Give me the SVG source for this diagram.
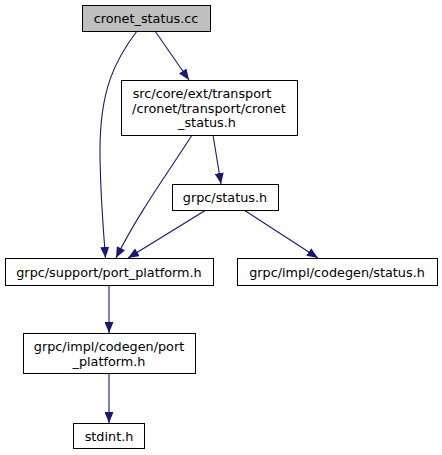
<svg xmlns="http://www.w3.org/2000/svg" width="442" height="455" viewBox="0 0 442 455">
<defs>
<marker id="ah" viewBox="0 0 11 9" refX="11" refY="4.5" markerWidth="11" markerHeight="9" markerUnits="userSpaceOnUse" orient="auto">
<path d="M0,0 L11,4.5 L0,9 z" fill="#191970" stroke="none"/>
</marker>
<style>
.n{fill:#ffffff;stroke:#000000;stroke-width:1}
.g{fill:#bfbfbf;stroke:#000000;stroke-width:1}
text{font-family:"DejaVu Sans",sans-serif;font-size:12.8px;fill:#000000;text-anchor:middle}
.e{fill:none;stroke:#191970;stroke-width:1.1;marker-end:url(#ah)}
</style>
</defs>
<rect width="442" height="455" fill="#ffffff"/>
<g id="edges">
<path class="e" d="M137,31 C115,60 100,90 100,150 C100,190 103,225 105.5,258"/>
<path class="e" d="M155,31 L189,80"/>
<path class="e" d="M192,135 C170,170 140,210 116,258"/>
<path class="e" d="M213,135 L221,184"/>
<path class="e" d="M206,210 L128,258"/>
<path class="e" d="M244,210 L318,258"/>
<path class="e" d="M109,285 L109,333"/>
<path class="e" d="M109,373 L109,423"/>
</g>
<g id="n_cronet_status_cc">
<rect class="g" x="82.5" y="5.5" width="128" height="26"/>
<text x="146" y="23">cronet_status.cc</text>
</g>
<g id="n_cronet_status_h">
<rect class="n" x="121.5" y="80.5" width="176" height="55"/>
<text x="202" y="98">src/core/ext/transport</text>
<text x="209" y="112.5">/cronet/transport/cronet</text>
<text x="207" y="127">_status.h</text>
</g>
<g id="n_grpc_status_h">
<rect class="n" x="172.5" y="184.5" width="106" height="26"/>
<text x="225" y="202">grpc/status.h</text>
</g>
<g id="n_port_platform_h">
<rect class="n" x="5.5" y="258.5" width="208" height="27"/>
<text x="109" y="276.5">grpc/support/port_platform.h</text>
</g>
<g id="n_codegen_status_h">
<rect class="n" x="237.5" y="258.5" width="200" height="27"/>
<text x="337" y="276.5">grpc/impl/codegen/status.h</text>
</g>
<g id="n_codegen_port_platform_h">
<rect class="n" x="23.5" y="333.5" width="172" height="40"/>
<text x="109" y="351">grpc/impl/codegen/port</text>
<text x="109" y="366">_platform.h</text>
</g>
<g id="n_stdint_h">
<rect class="n" x="73.5" y="423.5" width="71" height="25"/>
<text x="109" y="441">stdint.h</text>
</g>
</svg>
